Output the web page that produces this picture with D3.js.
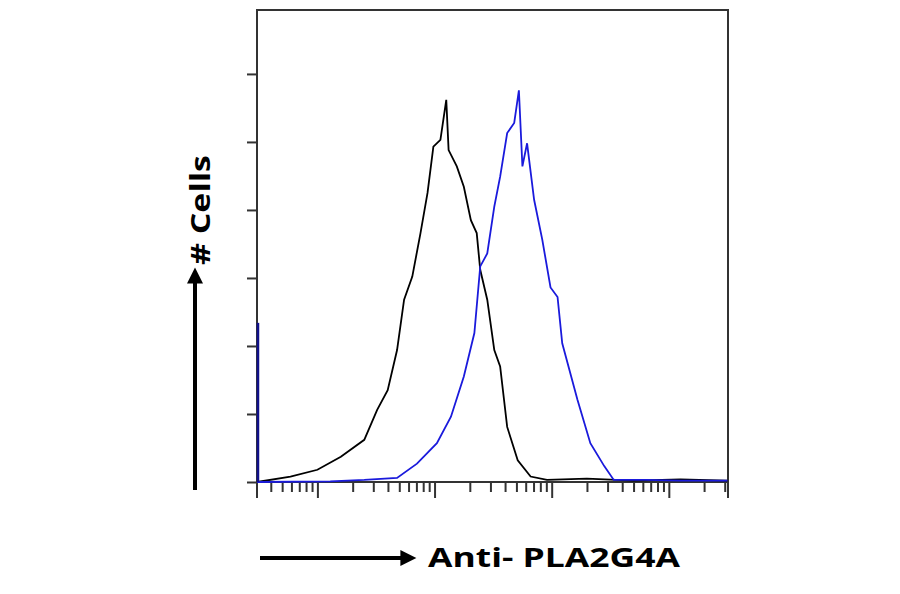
<!DOCTYPE html><html><head><meta charset="utf-8">
<script src="https://cdn.jsdelivr.net/npm/d3@7"></script>
<style>body{margin:0;background:#fff}svg{display:block}</style></head><body>
<svg id="c" width="900" height="594"></svg>
<script>
const blackLog=[0.485,0.77,1.0,1.2,1.4,1.51,1.6,1.68,1.74,1.81,1.88,1.94,1.99,2.05,2.10,2.12,2.19,2.25,2.31,2.36,2.39,2.45,2.51,2.56,2.62,2.71,2.82,2.96,3.3,3.7,4.1,4.5];
const blackVal=[0,0.08,0.18,0.37,0.62,1.06,1.35,1.94,2.68,3.02,3.66,4.25,4.93,5.03,5.62,4.88,4.64,4.34,3.85,3.66,3.12,2.68,1.94,1.70,0.81,0.32,0.08,0.03,0.05,0.02,0.04,0.02];
const blueLog=[0.485,1.11,1.40,1.68,1.85,2.02,2.14,2.25,2.34,2.39,2.45,2.51,2.56,2.62,2.68,2.72,2.75,2.79,2.85,2.92,2.99,3.05,3.09,3.22,3.33,3.45,3.53,3.8,4.1,4.5];
const blueVal=[0,0.01,0.03,0.06,0.27,0.57,0.96,1.55,2.19,3.17,3.36,4.05,4.49,5.13,5.28,5.76,4.64,4.98,4.15,3.56,2.86,2.72,2.04,1.21,0.57,0.23,0.03,0.03,0.02,0.02];
const yTicks=[0,1,2,3,4,5,6];
const leftSpike=2.34;
const svg=d3.select("#c");
const L=257,R=728,T=10,B=482;
const x=d3.scaleLog().domain([3.05,32000]).range([L,R]);
const y=d3.scaleLinear().domain([0,6.94]).range([B,T]);
svg.append("rect").attr("x",L).attr("y",T).attr("width",R-L).attr("height",B-T).attr("fill","none").attr("stroke","#333").attr("stroke-width",2);
svg.append("g").attr("transform",`translate(${L},0)`).call(d3.axisLeft(y).tickValues(yTicks).tickSize(10).tickFormat("")).call(g=>{g.select(".domain").remove();g.selectAll("line").attr("stroke","#333").attr("stroke-width",2);});
const xt=[];for(let d=0;d<=4;d++)for(let m=1;m<=9;m++){const v=m*Math.pow(10,d);if(v>=3.05&&v<=32000)xt.push(v);}
const xg=svg.append("g").attr("transform",`translate(0,${B})`).call(d3.axisBottom(x).tickValues(xt).tickSize(10).tickFormat(""));
xg.select(".domain").remove();
xg.selectAll("line").attr("stroke","#333").attr("stroke-width",2).attr("y2",d=>(Math.abs(Math.log10(d)%1)<1e-9)?16:10);
svg.append("line").attr("x1",L).attr("x2",L).attr("y1",B).attr("y2",B+16).attr("stroke","#333").attr("stroke-width",2);
svg.append("line").attr("x1",R).attr("x2",R).attr("y1",B).attr("y2",B+16).attr("stroke","#333").attr("stroke-width",2);
const line=d3.line().x(d=>x(Math.pow(10,d[0]))).y(d=>y(d[1]));
svg.append("path").datum(blackLog.map((v,i)=>[v,blackVal[i]])).attr("d",line).attr("fill","none").attr("stroke","#000").attr("stroke-width",1.8);
svg.append("path").datum(blueLog.map((v,i)=>[v,blueVal[i]])).attr("d",line).attr("fill","none").attr("stroke","#1a1adc").attr("stroke-width",1.8);
svg.append("line").attr("x1",L+1).attr("x2",L+1).attr("y1",B).attr("y2",y(leftSpike)).attr("stroke","#10108a").attr("stroke-width",2.5);
svg.append("defs").append("marker").attr("id","ah").attr("viewBox","0 0 10 10").attr("refX",1).attr("refY",5).attr("markerWidth",4.5).attr("markerHeight",4).attr("orient","auto").append("path").attr("d","M0,0L10,5L0,10z").attr("fill","#000");
svg.append("line").attr("x1",195).attr("y1",490).attr("y2",282).attr("x2",195).attr("stroke","#000").attr("stroke-width",4).attr("marker-end","url(#ah)");
svg.append("line").attr("x1",260).attr("y1",558).attr("x2",402).attr("y2",558).attr("stroke","#000").attr("stroke-width",4).attr("marker-end","url(#ah)");
svg.append("text").attr("transform","translate(210,210) rotate(-90)").attr("text-anchor","middle").attr("font-family","Open Sans, sans-serif").attr("font-weight","bold").attr("font-size",26).attr("textLength",110).attr("lengthAdjust","spacingAndGlyphs").text("# Cells");
svg.append("text").attr("x",428).attr("y",567).attr("font-family","Open Sans, sans-serif").attr("font-weight","bold").attr("font-size",27).attr("textLength",252).attr("lengthAdjust","spacingAndGlyphs").text("Anti- PLA2G4A");
</script></body></html>
